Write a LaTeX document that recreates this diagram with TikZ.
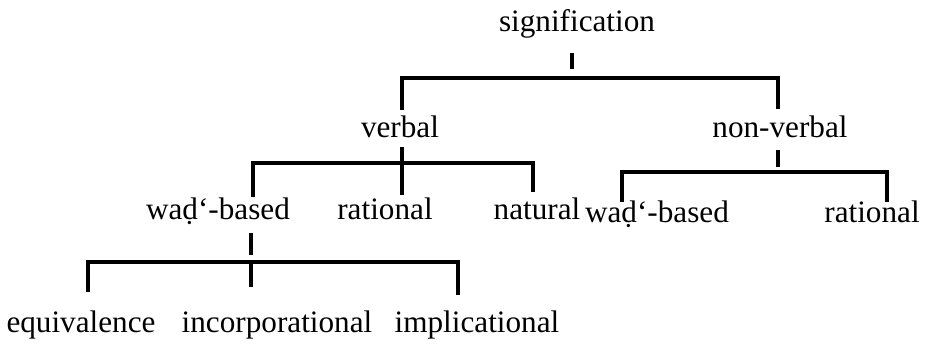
\documentclass[tikz,border=0pt]{standalone}
\usepackage{fontspec}
\setmainfont{Liberation Serif}
\tikzset{
    term/.style={anchor=base,inner sep=0pt,font=\fontsize{15.6}{18}\selectfont},
    stem/.style={line width=1.6pt},
    bracket/.style={line width=1.6pt}
}
\begin{document}
\begin{tikzpicture}[x=0.5pt,y=-0.5pt]
        \useasboundingbox (0,0) rectangle (925,345);
        \node[term] (sig) at (577,31) {signification};
        \node[term] (verbal) at (400,137) {verbal};
        \node[term] (nonverbal) at (780,137) {non-verbal};
        \node[term] (wadL) at (218,219) {waḍ‘-based};
        \node[term] (ratL) at (385,219) {rational};
        \node[term] (nat) at (537,219) {natural};
        \node[term] (wadR) at (657,222) {waḍ‘-based};
        \node[term] (ratR) at (872,222) {rational};
        \node[term] (equiv) at (81,332) {equivalence};
        \node[term] (incorp) at (277,332) {incorporational};
        \node[term] (implic) at (477,332) {implicational};
        \begin{scope}
            \coordinate (s0) at (572,53);
            \coordinate (s1) at (572,69);
            \coordinate (sl) at (402,110);
            \coordinate (sr) at (778,78);
            \coordinate (sd) at (778,109);
            \draw[stem] (s0) -- (s1);
            \draw[bracket] (sl) |- (sr) -- (sd);
        \end{scope}
        \begin{scope}
            \coordinate (v0) at (402,147);
            \coordinate (v1) at (402,195);
            \coordinate (vl) at (253,197);
            \coordinate (vr) at (533,163);
            \coordinate (vd) at (533,192);
            \draw[stem] (v0) -- (v1);
            \draw[bracket] (vl) |- (vr) -- (vd);
        \end{scope}
        \begin{scope}
            \coordinate (n0) at (778,150);
            \coordinate (n1) at (778,167);
            \coordinate (nl) at (622,202);
            \coordinate (nr) at (887,172);
            \coordinate (nd) at (887,202);
            \draw[stem] (n0) -- (n1);
            \draw[bracket] (nl) |- (nr) -- (nd);
        \end{scope}
        \begin{scope}
            \coordinate (w0) at (251,233);
            \coordinate (w1) at (251,255);
            \coordinate (wm) at (251,262);
            \coordinate (wb) at (251,287);
            \coordinate (wl) at (88,292);
            \coordinate (wr) at (458,262);
            \coordinate (wd) at (458,295);
            \draw[stem] (w0) -- (w1);
            \draw[bracket] (wl) |- (wr) -- (wd);
            \draw[stem] (wm) -- (wb);
        \end{scope}
    \end{tikzpicture}
\end{document}
